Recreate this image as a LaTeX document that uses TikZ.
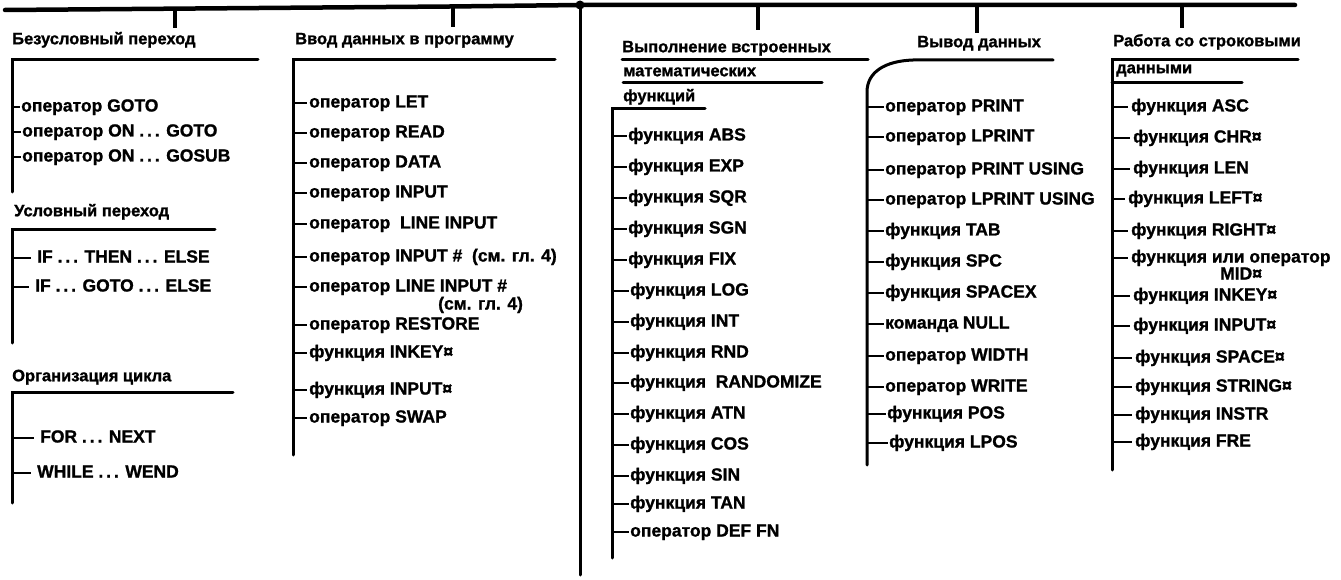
\documentclass[tikz,border=0pt]{standalone}
\usepackage{fontspec}
\setmainfont{Liberation Sans}[BoldFeatures={FakeBold=1.2}]
\newcommand\itemfnt{\fontsize{17.5}{20}\selectfont\bfseries}
\newcommand\headfnt{\fontsize{16.5}{20}\selectfont\bfseries}
\tikzset{
  topline/.style={line width=4.5pt, line cap=round},
  spine/.style={line width=3pt, line cap=round},
  bar/.style={line width=3pt, line cap=round, line join=miter},
  branch/.style={line width=3.5pt},
  tick/.style={line width=2.5pt},
  itm/.style={anchor=west, inner sep=0pt, font=\itemfnt, text height=12.5pt, text depth=3.5pt},
  hd/.style={anchor=west, inner sep=0pt, font=\headfnt, text height=12pt, text depth=3.5pt},
}
\begin{document}
\begin{tikzpicture}[x=1pt,y=-1pt]
\useasboundingbox (0,0) rectangle (1341,580);
% top line and hub
\node[circle, fill, inner sep=0pt, minimum size=9pt] (hub) at (580,5) {};
\coordinate (tl) at (5,10);
\coordinate (tm) at (450,6.5);
\coordinate (tr) at (1295,5);
\coordinate (bot) at (580,575);
\draw[topline] (tl) -- (tm) -- (hub.center) -- (tr);
\draw[spine] (hub.center) -- (bot);
% branch ticks
\coordinate (b1) at (175,8.7); \coordinate (b1e) at (175,28);
\coordinate (b2) at (453,6.5); \coordinate (b2e) at (453,27);
\coordinate (b3) at (758,5); \coordinate (b3e) at (758,30);
\coordinate (b4) at (977,5); \coordinate (b4e) at (977,33);
\coordinate (b5) at (1182,5); \coordinate (b5e) at (1182,28);
\foreach \b in {1,...,5} \draw[branch] (b\b) -- (b\b e);

% ---------- column 1 ----------
\node[hd] (h1) at (12,40) {Безусловный переход};
\coordinate (v1) at (12,60); \coordinate (v1e) at (12,192); \coordinate (u1) at (258,60);
\draw[bar] (u1) -- (v1) -- (v1e);
\node[itm] (a1) at (21,107) {оператор GOTO};
\node[itm] (a2) at (22,132) {оператор ON .\,.\,. GOTO};
\node[itm] (a3) at (22,157) {оператор ON .\,.\,. GOSUB};
\foreach \n in {a1,a2,a3} \draw[tick] (\n.west -| v1) -- ([xshift=-1pt]\n.west);

\node[hd] (h2) at (14,212) {Условный переход};
\coordinate (v2) at (12,230); \coordinate (v2e) at (12,343); \coordinate (u2) at (215,230);
\draw[bar] (u2) -- (v2) -- (v2e);
\node[itm] (c1) at (37,258) {IF .\,.\,. THEN .\,.\,. ELSE};
\node[itm] (c2) at (35,287) {IF .\,.\,. GOTO .\,.\,. ELSE};
\foreach \n in {c1,c2} \draw[tick] (\n.west -| v2) -- ([xshift=-6pt]\n.west);

\node[hd] (h3) at (12,377) {Организация цикла};
\coordinate (v3) at (12,392); \coordinate (v3e) at (12,503); \coordinate (u3) at (233,392);
\draw[bar] (u3) -- (v3) -- (v3e);
\node[itm] (f1) at (40,438) {FOR .\,.\,. NEXT};
\node[itm] (f2) at (37,473) {WHILE .\,.\,. WEND};
\foreach \n in {f1,f2} \draw[tick] (\n.west -| v3) -- ([xshift=-6pt]\n.west);

% ---------- column 2 ----------
\node[hd] (h4) at (295,40) {Ввод данных в программу};
\coordinate (v4) at (293,60); \coordinate (v4e) at (293,455); \coordinate (u4) at (555,60);
\draw[bar] (u4) -- (v4) -- (v4e);
\node[itm] (d1) at (309,103) {оператор LET};
\node[itm] (d2) at (309,133) {оператор READ};
\node[itm] (d3) at (309,163) {оператор DATA};
\node[itm] (d4) at (309,193) {оператор INPUT};
\node[itm] (d5) at (309,224) {оператор \ LINE INPUT};
\node[itm] (d6) at (309,257) {оператор INPUT \# \ (см. гл. 4)};
\node[itm] (d7) at (309,287) {оператор LINE INPUT \#};
\node[itm] (d7b) at (438,305) {(см. гл. 4)};
\node[itm] (d8) at (309,325) {оператор RESTORE};
\node[itm] (d9) at (309,353) {функция INKEY¤};
\node[itm] (d10) at (309,390) {функция INPUT¤};
\node[itm] (d11) at (309,418) {оператор SWAP};
\foreach \n in {d1,d2,d3,d4,d5,d6,d7,d8,d9,d10,d11} \draw[tick] (\n.west -| v4) -- ([xshift=-2pt]\n.west);

% ---------- column 3 ----------
\node[hd] (h5a) at (622,48) {Выполнение встроенных};
\node[hd] (h5b) at (623,72) {математических};
\node[hd] (h5c) at (623,97) {функций};
\coordinate (u5a) at (622,60); \coordinate (u5ae) at (868,60);
\coordinate (u5b) at (623,83); \coordinate (u5be) at (822,83);
\coordinate (v5) at (612,109); \coordinate (v5e) at (612,558); \coordinate (u5c) at (705,109);
\draw[bar] (u5a) -- (u5ae);
\draw[bar] (u5b) -- (u5be);
\draw[bar] (u5c) -- (v5) -- (v5e);
\node[itm] (m1) at (628,136) {функция ABS};
\node[itm] (m2) at (628,167) {функция EXP};
\node[itm] (m3) at (628,198) {функция SQR};
\node[itm] (m4) at (628,229) {функция SGN};
\node[itm] (m5) at (628,260) {функция FIX};
\node[itm] (m6) at (630,291) {функция LOG};
\node[itm] (m7) at (630,322) {функция INT};
\node[itm] (m8) at (630,353) {функция RND};
\node[itm] (m9) at (630,383) {функция \ RANDOMIZE};
\node[itm] (m10) at (630,414) {функция ATN};
\node[itm] (m11) at (630,445) {функция COS};
\node[itm] (m12) at (630,476) {функция SIN};
\node[itm] (m13) at (630,504) {функция TAN};
\node[itm] (m14) at (630,532) {оператор DEF FN};
\foreach \n in {m1,m2,m3,m4,m5,m6,m7,m8,m9,m10,m11,m12,m13,m14} \draw[tick] (\n.west -| v5) -- ([xshift=-1pt]\n.west);

% ---------- column 4 ----------
\node[hd] (h6) at (917,43) {Вывод данных};
\coordinate (u6) at (1053,60); \coordinate (u6b) at (913,60);
\coordinate (v6) at (867,92); \coordinate (v6e) at (867,465);
\draw[bar] (u6) -- (u6b) .. controls (885,61) and (867,72) .. (v6) -- (v6e);
\node[itm] (p1) at (885,107) {оператор PRINT};
\node[itm] (p2) at (885,137) {оператор LPRINT};
\node[itm] (p3) at (885,170) {оператор PRINT USING};
\node[itm] (p4) at (885,200) {оператор LPRINT USING};
\node[itm] (p5) at (885,231) {функция TAB};
\node[itm] (p6) at (885,262) {функция SPC};
\node[itm] (p7) at (885,293) {функция SPACEX};
\node[itm] (p8) at (885,324) {команда NULL};
\node[itm] (p9) at (885,356) {оператор WIDTH};
\node[itm] (p10) at (885,387) {оператор WRITE};
\node[itm] (p11) at (887,414) {функция POS};
\node[itm] (p12) at (889,443) {функция LPOS};
\foreach \n in {p1,p2,p3,p4,p5,p6,p7,p8,p9,p10,p11,p12} \draw[tick] (\n.west -| v6) -- ([xshift=-1pt]\n.west);

% ---------- column 5 ----------
\node[hd] (h7) at (1113,42) {Работа со строковыми};
\node[hd] (h7b) at (1116,69) {данными};
\coordinate (u7) at (1298,60); \coordinate (v7) at (1112,60); \coordinate (v7e) at (1112,470);
\coordinate (u7b) at (1112,83); \coordinate (u7be) at (1242,83);
\draw[bar] (u7) -- (v7) -- (v7e);
\draw[bar] (u7b) -- (u7be);
\node[itm] (s1) at (1131,107) {функция ASC};
\node[itm] (s2) at (1133,138) {функция CHR¤};
\node[itm] (s3) at (1133,169) {функция LEN};
\node[itm] (s4) at (1128,199) {функция LEFT¤};
\node[itm] (s5) at (1131,231) {функция RIGHT¤};
\node[itm] (s6) at (1131,258) {функция или оператор};
\node[itm] (s6b) at (1220,275) {MID¤};
\node[itm] (s7) at (1133,296) {функция INKEY¤};
\node[itm] (s8) at (1133,326) {функция INPUT¤};
\node[itm] (s9) at (1135,358) {функция SPACE¤};
\node[itm] (s10) at (1135,387) {функция STRING¤};
\node[itm] (s11) at (1135,415) {функция INSTR};
\node[itm] (s12) at (1135,442) {функция FRE};
\foreach \n in {s1,s2,s3,s4,s5,s6,s7,s8,s9,s10,s11,s12} \draw[tick] (\n.west -| v7) -- ([xshift=-3pt]\n.west);
\end{tikzpicture}
\end{document}
